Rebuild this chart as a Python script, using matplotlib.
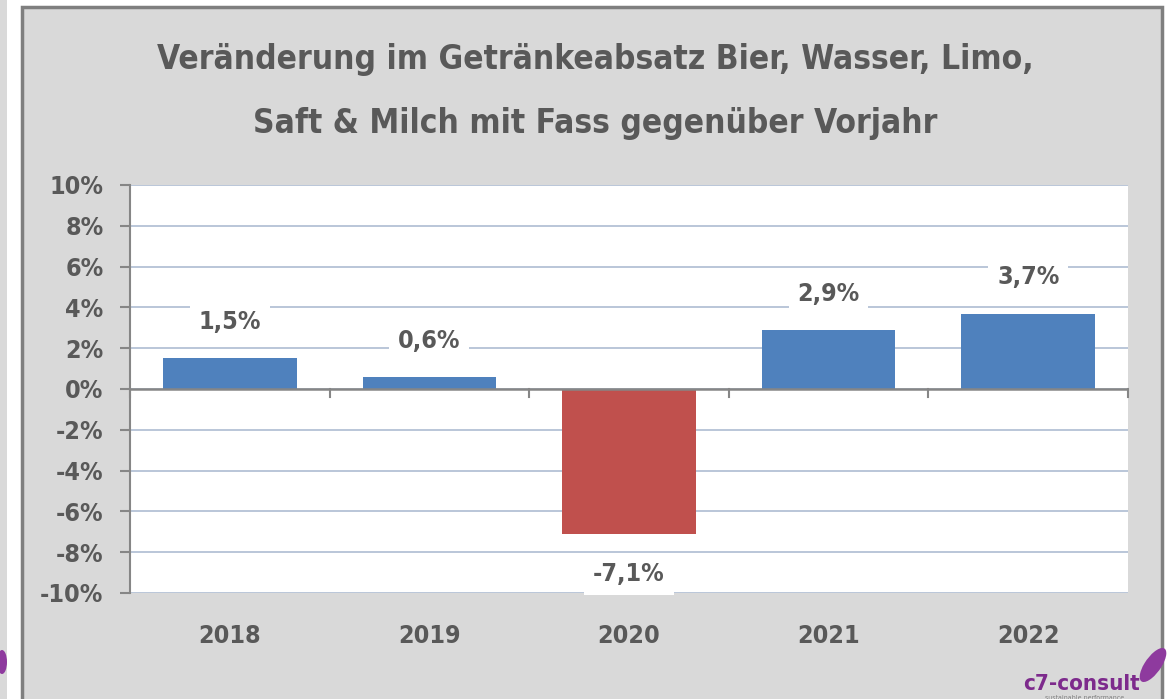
import matplotlib.pyplot as plt
import matplotlib.patches as mpatches
import numpy as np

years = ['2018', '2019', '2020', '2021', '2022']
change = [1.5, 0.6, -7.1, 2.9, 3.7]
labels = ['1,5%', '0,6%', '-7,1%', '2,9%', '3,7%']
yticks = [-10, -8, -6, -4, -2, 0, 2, 4, 6, 8, 10]

plt.rcParams['font.family'] = ['DejaVu Sans']
plt.rcParams['font.stretch'] = 'condensed'
txt = '#595959'

fig = plt.figure(figsize=(11.69, 6.99), dpi=100)
fig.patch.set_facecolor('white')

# grey panel with dark frame
fig.add_artist(mpatches.Rectangle((22 / 1169, -0.05), 1140 / 1169, 1.05 - 7 / 699,
                                  transform=fig.transFigure, facecolor='#d9d9d9',
                                  edgecolor='#7f7f7f', linewidth=2.5, zorder=-5))
fig.add_artist(mpatches.Rectangle((0, 0), 7 / 1169, 1, transform=fig.transFigure,
                                  facecolor='#d9d9d9', edgecolor='none', zorder=-5))

ax = fig.add_axes([130 / 1169, 1 - 593 / 699, 998 / 1169, 408 / 699])
ax.set_facecolor('white')

x = np.arange(len(years))
colors = ['#c0504d' if v < 0 else '#4f81bd' for v in change]
ax.bar(x, change, width=0.67, color=colors, zorder=3)

ax.set_xlim(-0.5, len(years) - 0.5)
ax.set_ylim(-10, 10)
ax.set_yticks(yticks)
ax.set_yticklabels([f'{t}%' for t in yticks], fontsize=18, color=txt, fontweight='semibold')
for t in yticks:
    ax.axhline(t, color='#b4c2d6', linewidth=1.3, zorder=1)

for s in ['top', 'right', 'bottom']:
    ax.spines[s].set_visible(False)
ax.spines['left'].set_color('#868686')
ax.spines['left'].set_linewidth(1.5)
ax.tick_params(axis='y', length=7, width=1.5, color='#868686', pad=12)
ax.set_xticks([])

# category axis at zero with boundary ticks
ax.axhline(0, color='#868686', linewidth=1.8, zorder=4)
for b in np.arange(len(years) + 1) - 0.5:
    ax.plot([b, b], [0, -0.4], color='#868686', linewidth=1.5, zorder=4, clip_on=False)

for xi, yr in zip(x, years):
    ax.annotate(yr, (xi, -10), xytext=(0, -31), textcoords='offset points',
                ha='center', va='center', fontsize=18, color=txt, fontweight='semibold')

for xi, v, lb in zip(x, change, labels):
    off = 26 if v >= 0 else -29
    ax.annotate(lb, (xi, v), xytext=(0, off), textcoords='offset points',
                ha='center', va='center', fontsize=18, color=txt, fontweight='semibold',
                bbox=dict(boxstyle='square,pad=0.35', facecolor='white', edgecolor='none'),
                zorder=5)

fig.text(595 / 1169, 1 - 60 / 699, 'Veränderung im Getränkeabsatz Bier, Wasser, Limo,',
         ha='center', va='center', fontsize=24, fontweight='bold', color=txt)
fig.text(595 / 1169, 1 - 124 / 699, 'Saft & Milch mit Fass gegenüber Vorjahr',
         ha='center', va='center', fontsize=24, fontweight='bold', color=txt)

# logo
fig.text(1140 / 1169, 1 - 684 / 699, 'c7-consult', ha='right', va='center',
         fontsize=16, fontweight='bold', color='#7d2a8c')
fig.text(1085 / 1169, 1 - 698 / 699, 'sustainable performance', ha='center', va='center',
         fontsize=5, color='#7f7f7f')
fig.add_artist(mpatches.Ellipse((1153 / 1169, 1 - 665 / 699), 18 / 1169, 36 / 699,
                                angle=-20, transform=fig.transFigure,
                                facecolor='#8e3a9e', edgecolor='none'))
fig.add_artist(mpatches.Ellipse((2 / 1169, 1 - 662 / 699), 10 / 1169, 24 / 699,
                                transform=fig.transFigure,
                                facecolor='#8e3a9e', edgecolor='none'))

fig.savefig('out.png', dpi=100)
